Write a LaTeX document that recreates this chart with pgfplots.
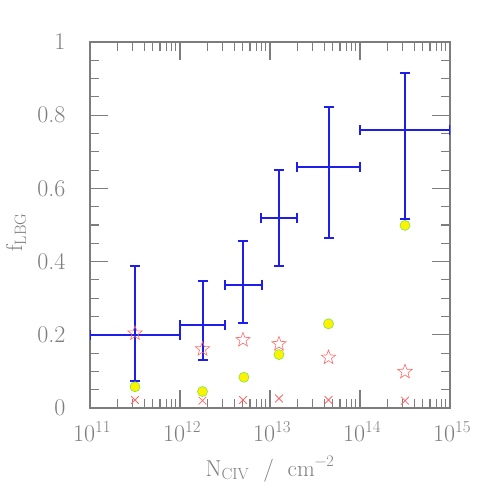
\documentclass[border=0pt]{standalone}
\usepackage{fontspec}
\usepackage{pgfplots}
\pgfplotsset{compat=1.18}
\definecolor{axgray}{RGB}{125,125,125}
\definecolor{barblue}{RGB}{30,30,235}
\definecolor{starred}{RGB}{255,105,105}
\definecolor{dotgreen}{RGB}{120,230,60}
% open five-pointed star
\pgfdeclareplotmark{ostar}{%
  \pgfpathmoveto{\pgfpointpolar{90}{\pgfplotmarksize}}%
  \pgfpathlineto{\pgfpointpolar{126}{0.42\pgfplotmarksize}}%
  \pgfpathlineto{\pgfpointpolar{162}{\pgfplotmarksize}}%
  \pgfpathlineto{\pgfpointpolar{198}{0.42\pgfplotmarksize}}%
  \pgfpathlineto{\pgfpointpolar{234}{\pgfplotmarksize}}%
  \pgfpathlineto{\pgfpointpolar{270}{0.42\pgfplotmarksize}}%
  \pgfpathlineto{\pgfpointpolar{306}{\pgfplotmarksize}}%
  \pgfpathlineto{\pgfpointpolar{342}{0.42\pgfplotmarksize}}%
  \pgfpathlineto{\pgfpointpolar{18}{\pgfplotmarksize}}%
  \pgfpathlineto{\pgfpointpolar{54}{0.42\pgfplotmarksize}}%
  \pgfpathclose\pgfusepathqstroke}
\newcommand\tickfont{\fontsize{24}{28}\selectfont\addfontfeature{LetterSpace=25}}
\newcommand\labfont{\fontsize{23}{27}\selectfont\addfontfeature{LetterSpace=10}}
\begin{document}
\begin{tikzpicture}
\begin{axis}[scale only axis,width=360pt,height=366pt,
  xmin=11,xmax=15,ymin=0,ymax=1,
  xtick={11,12,13,14,15},
  xticklabels={10\textsuperscript{11},10\textsuperscript{12},10\textsuperscript{13},10\textsuperscript{14},10\textsuperscript{15}},
  minor xtick={11.301,11.477,11.602,11.699,11.778,11.845,11.903,11.954,
    12.301,12.477,12.602,12.699,12.778,12.845,12.903,12.954,
    13.301,13.477,13.602,13.699,13.778,13.845,13.903,13.954,
    14.301,14.477,14.602,14.699,14.778,14.845,14.903,14.954},
  ytick={0,0.2,0.4,0.6,0.8,1},
  minor ytick={0.05,0.1,0.15,0.25,0.3,0.35,0.45,0.5,0.55,0.65,0.7,0.75,0.85,0.9,0.95},
  major tick length=18pt,minor tick length=9pt,
  axis line style={axgray,line width=1.1pt},
  every tick/.style={axgray,line width=1.1pt},
  /pgf/number format/assume math mode=true,
  tick label style={font=\tickfont,text=axgray},
  xticklabel style={yshift=-10pt,xshift=2pt},
  yticklabel style={xshift=-21pt},
  label style={font=\labfont,text=axgray},
  xlabel style={at={([yshift=-68pt]axis description cs:0.5,0)},anchor=base},
  xlabel={N\textsubscript{CIV}\ \ /\ \ cm\textsuperscript{−2}}]
\addplot[barblue,line width=2pt,only marks,mark=none,mark size=0pt,
  error bars/.cd,x dir=both,x explicit,y dir=both,y explicit,
  error mark=-,
  error bar style={barblue,line width=2pt},
  error mark options={barblue,mark size=5pt,line width=2pt,rotate=90}]
  coordinates {
  (11.50,0.200) += (0.50,0.189) -= (0.50,0.125)
  (12.25,0.226) += (0.25,0.121) -= (0.25,0.094)
  (12.70,0.337) += (0.21,0.120) -= (0.20,0.105)
  (13.10,0.518) += (0.20,0.132) -= (0.20,0.130)
  (13.65,0.659) += (0.35,0.164) -= (0.35,0.195)
  (14.50,0.760) += (0.50,0.156) -= (0.50,0.244)};
\addplot[only marks,mark=ostar,mark size=7.5pt,starred,line width=0.6pt]
  coordinates {(11.50,0.204) (12.25,0.161) (12.70,0.186) (13.10,0.175) (13.65,0.138) (14.50,0.099)};
\addplot[only marks,mark=*,mark size=5pt,draw=dotgreen,fill=yellow,line width=0.6pt]
  coordinates {(11.50,0.058) (12.25,0.045) (12.71,0.084) (13.10,0.146) (13.65,0.230) (14.50,0.499)};
\addplot[only marks,mark=x,mark size=5.5pt,starred,line width=0.8pt]
  coordinates {(11.50,0.022) (12.25,0.020) (12.70,0.022) (13.10,0.026) (13.65,0.022) (14.50,0.020)};
\coordinate (SW) at (rel axis cs:0,0);
\coordinate (NE) at (rel axis cs:1,1);
\coordinate (YL) at ([xshift=-74pt]rel axis cs:0,0.48);
\end{axis}
\node[rotate=90,font=\labfont,text=axgray,anchor=center] at (YL) {f\textsubscript{LBG}};
\pgfresetboundingbox
\path[use as bounding box] ([shift={(-90pt,-83pt)}]SW) rectangle ([shift={(41pt,42pt)}]NE);
\end{tikzpicture}
\end{document}
